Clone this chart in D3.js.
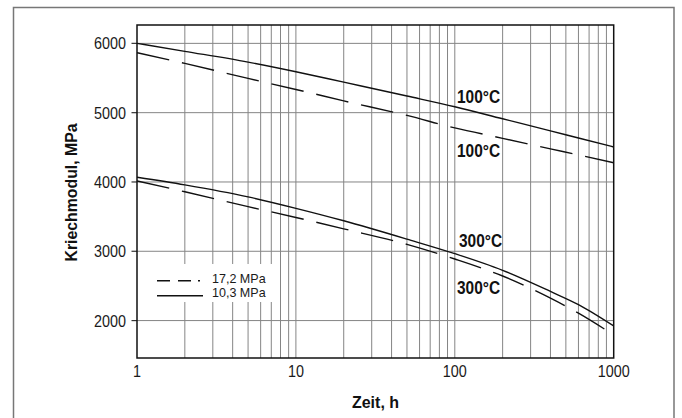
<!DOCTYPE html>
<html>
<head>
<meta charset="utf-8">
<script src="https://cdn.jsdelivr.net/npm/d3@7"></script>
<style>
  html, body { margin: 0; padding: 0; background: #fff; }
  svg { display: block; }
  text { font-family: "Liberation Sans", Arial, sans-serif; }
  .tick-label { font-size: 16.5px; fill: #1a1a1a; }
  .title { font-size: 16.5px; font-weight: bold; fill: #111; }
  .curve-label { font-size: 18px; font-weight: bold; fill: #111; }
  .legend-text { font-size: 13.2px; fill: #1a1a1a; }
</style>
</head>
<body>
<svg id="chart" width="682" height="418"></svg>
<script>
// Creep modulus vs. time (log scale) at 100 °C and 300 °C for two stress levels
const times = [1, 2, 5, 10, 20, 50, 100, 200, 400, 600, 1000];

// 10,3 MPa (solid)
const solid100 = [6000, 5885, 5730, 5591, 5440, 5240, 5086, 4912, 4738, 4634, 4505];
const solid300 = [4068, 3958, 3785, 3620, 3440, 3175, 2965, 2725, 2420, 2230, 1922];
// 17,2 MPa (dashed)
const dashed100 = [5865, 5711, 5494, 5335, 5170, 4960, 4780, 4630, 4478, 4390, 4277];
const dashed300 = [4014, 3859, 3644, 3488, 3324, 3100, 2888, 2643, 2323, 2107, 1792];

const xTickLabels = [1, 10, 100, 1000];
const yTickValues = [2000, 3000, 4000, 5000, 6000];
const legendLabels = ["17,2 MPa", "10,3 MPa"];
const curveLabels = ["100°C", "100°C", "300°C", "300°C"];

const svg = d3.select("#chart");
const W = 682, H = 418;
const plot = { left: 137, right: 613.7, top: 25, bottom: 358 };

const x = d3.scaleLog().domain([1, 1000]).range([plot.left, plot.right]);
const y = d3.scaleLinear().domain([1460, 6265]).range([plot.bottom, plot.top]);

// places a text at (px, py) with a horizontal squeeze for a condensed look
const squeeze = (px, py, k) => `translate(${px},${py}) scale(${k},1)`;

svg.append("rect").attr("width", W).attr("height", H).attr("fill", "#fff");

// outer frame (open at the bottom)
svg.append("path")
  .attr("d", `M13.5,${H + 2} V7.5 H674 V${H + 2}`)
  .attr("fill", "none").attr("stroke", "#777").attr("stroke-width", 1.5);

// grid
const gridX = [];
for (let dec = 1; dec < 1000; dec *= 10) {
  for (let m = 1; m <= 9; m++) {
    const v = dec * m;
    if (v > 1 && v < 1000) gridX.push(v);
  }
}
const grid = svg.append("g").attr("stroke", "#858585").attr("stroke-width", 1);
grid.selectAll("line.gx").data(gridX).join("line")
  .attr("x1", d => x(d)).attr("x2", d => x(d))
  .attr("y1", plot.top).attr("y2", plot.bottom);
grid.selectAll("line.gy").data(yTickValues).join("line")
  .attr("x1", plot.left).attr("x2", plot.right)
  .attr("y1", d => y(d)).attr("y2", d => y(d));

// y axis ticks and labels
const yAxis = svg.append("g");
yAxis.selectAll("line").data(yTickValues).join("line")
  .attr("x1", plot.left - 5.5).attr("x2", plot.left)
  .attr("y1", d => y(d)).attr("y2", d => y(d))
  .attr("stroke", "#333").attr("stroke-width", 1.2);
yAxis.selectAll("text").data(yTickValues).join("text")
  .attr("class", "tick-label")
  .attr("transform", d => squeeze(plot.left - 11, y(d) + 6, 0.87))
  .attr("text-anchor", "end")
  .text(d => d);

// x axis labels
svg.append("g").selectAll("text").data(xTickLabels).join("text")
  .attr("class", "tick-label")
  .attr("transform", d => squeeze(x(d), 377, 0.87))
  .attr("text-anchor", "middle")
  .text(d => d);

// legend (white panel over the grid)
const legend = svg.append("g");
legend.append("rect").attr("x", 150).attr("y", 264).attr("width", 126).attr("height", 38).attr("fill", "#fff");
legend.append("line").attr("x1", 157).attr("x2", 203).attr("y1", 280.7).attr("y2", 280.7)
  .attr("stroke", "#111").attr("stroke-width", 1.4).attr("stroke-dasharray", "13,8,13,7,2");
legend.append("line").attr("x1", 157).attr("x2", 203).attr("y1", 295.7).attr("y2", 295.7)
  .attr("stroke", "#111").attr("stroke-width", 1.4);
legend.selectAll("text").data(legendLabels).join("text")
  .attr("class", "legend-text")
  .attr("transform", (d, i) => squeeze(212, 282.6 + i * 14.6, 0.95))
  .text(d => d);

// curves
svg.append("clipPath").attr("id", "plot-clip")
  .append("rect").attr("x", plot.left).attr("y", plot.top)
  .attr("width", plot.right - plot.left).attr("height", plot.bottom - plot.top);

const line = d3.line()
  .x(d => x(d[0])).y(d => y(d[1]))
  .curve(d3.curveMonotoneX);

const series = [
  { values: solid100, dash: null },
  { values: dashed100, dash: "33,13" },
  { values: solid300, dash: null },
  { values: dashed300, dash: "33,13" }
];
const curves = svg.append("g").attr("clip-path", "url(#plot-clip)");
curves.selectAll("path").data(series).join("path")
  .attr("d", s => line(times.map((t, i) => [t, s.values[i]])))
  .attr("fill", "none").attr("stroke", "#111").attr("stroke-width", 1.4)
  .attr("stroke-dasharray", s => s.dash);

// curve labels
const labelPos = [[457, 103.3], [457, 156.7], [459, 247], [457, 294]];
svg.append("g").selectAll("text").data(curveLabels).join("text")
  .attr("class", "curve-label")
  .attr("transform", (d, i) => squeeze(labelPos[i][0], labelPos[i][1], 0.86))
  .text(d => d);

// plot frame
svg.append("rect")
  .attr("x", plot.left).attr("y", plot.top)
  .attr("width", plot.right - plot.left).attr("height", plot.bottom - plot.top)
  .attr("fill", "none").attr("stroke", "#111").attr("stroke-width", 1.5);

// axis titles
svg.append("text").attr("class", "title")
  .attr("transform", squeeze(375.5, 408, 0.97))
  .attr("text-anchor", "middle")
  .text("Zeit, h");
svg.append("text").attr("class", "title")
  .attr("transform", "translate(76.5,192.5) rotate(-90) scale(0.96,1)")
  .attr("text-anchor", "middle")
  .text("Kriechmodul, MPa");
</script>
</body>
</html>
